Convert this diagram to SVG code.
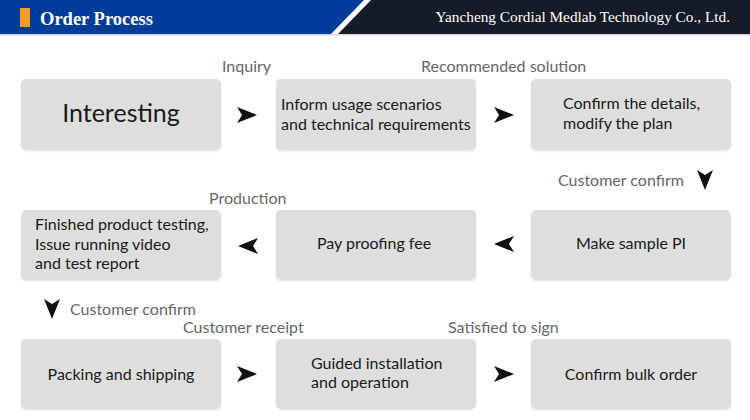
<svg xmlns="http://www.w3.org/2000/svg" width="750" height="420" viewBox="0 0 750 420">
<style>
.box{fill:#dedede;}
.t{font-family:Lato,"Liberation Sans",sans-serif;font-size:16px;fill:#1a1a1a;}
.big{font-size:25px;}
.lbl{font-family:Lato,"Liberation Sans",sans-serif;font-size:16px;fill:#666666;}
.hd{font-family:"Liberation Serif",serif;fill:#ffffff;}
.ar{fill:#111111;}
</style>
<defs>
<filter id="sh" x="-5%" y="-5%" width="110%" height="115%">
<feDropShadow dx="0" dy="1" stdDeviation="1" flood-color="#000" flood-opacity="0.12"/>
</filter>
<path id="ah" d="M-10,-8 L10,0 L-10,8 L-5,0 Z"/>
</defs>
<rect width="750" height="420" fill="#ffffff"/>
<g id="header">
<polygon points="0,0 364,0 331,34 0,34" fill="#003c9a"/>
<polygon points="371,0 750,0 750,34 338,34" fill="#161c27"/>
<rect x="0" y="34" width="750" height="1.5" fill="#d8d8d8"/>
<rect x="20" y="8" width="10" height="19" fill="#f39a2a"/>
<text class="hd" x="40" y="25" style="font-size:18.5px;font-weight:bold">Order Process</text>
<text class="hd" x="730" y="22" style="font-size:15.3px" text-anchor="end">Yancheng Cordial Medlab Technology Co., Ltd.</text>
</g>
<g id="n1"><rect class="box" x="21" y="79" width="200" height="71" rx="5" filter="url(#sh)"/><text class="t big" x="121" y="122" text-anchor="middle">Interesting</text></g>
<g id="n2"><rect class="box" x="276" y="79" width="200" height="71" rx="5" filter="url(#sh)"/><text class="t" x="281" y="110">Inform usage scenarios</text><text class="t" x="281" y="130">and technical requirements</text></g>
<g id="n3"><rect class="box" x="531" y="79" width="200" height="71" rx="5" filter="url(#sh)"/><text class="t" x="563" y="109">Confirm the details,</text><text class="t" x="563" y="129">modify the plan</text></g>
<g id="n4"><rect class="box" x="531" y="210" width="200" height="70" rx="5" filter="url(#sh)"/><text class="t" x="631" y="249" text-anchor="middle">Make sample PI</text></g>
<g id="n5"><rect class="box" x="276" y="210" width="200" height="70" rx="5" filter="url(#sh)"/><text class="t" x="374" y="249" text-anchor="middle">Pay proofing fee</text></g>
<g id="n6"><rect class="box" x="21" y="210" width="200" height="70" rx="5" filter="url(#sh)"/><text class="t" x="35" y="230">Finished product testing,</text><text class="t" x="35" y="250">Issue running video</text><text class="t" x="35" y="269">and test report</text></g>
<g id="n7"><rect class="box" x="21" y="339" width="200" height="70" rx="5" filter="url(#sh)"/><text class="t" x="121" y="380" text-anchor="middle">Packing and shipping</text></g>
<g id="n8"><rect class="box" x="276" y="339" width="200" height="70" rx="5" filter="url(#sh)"/><text class="t" x="311" y="369">Guided installation</text><text class="t" x="311" y="388">and operation</text></g>
<g id="n9"><rect class="box" x="531" y="339" width="200" height="70" rx="5" filter="url(#sh)"/><text class="t" x="631" y="380" text-anchor="middle">Confirm bulk order</text></g>
<g id="connectors">
<use href="#ah" class="ar" transform="translate(247,115)"/>
<use href="#ah" class="ar" transform="translate(504,115)"/>
<use href="#ah" class="ar" transform="translate(705,180) rotate(90)"/>
<use href="#ah" class="ar" transform="translate(504,244) rotate(180)"/>
<use href="#ah" class="ar" transform="translate(248,246) rotate(180)"/>
<use href="#ah" class="ar" transform="translate(52,309) rotate(90)"/>
<use href="#ah" class="ar" transform="translate(247,374)"/>
<use href="#ah" class="ar" transform="translate(504,374)"/>
</g>
<g id="labels">
<text class="lbl" x="222" y="72">Inquiry</text>
<text class="lbl" x="421" y="72">Recommended solution</text>
<text class="lbl" x="558" y="186">Customer confirm</text>
<text class="lbl" x="209" y="204">Production</text>
<text class="lbl" x="70" y="315">Customer confirm</text>
<text class="lbl" x="183" y="333">Customer receipt</text>
<text class="lbl" x="448" y="333">Satisfied to sign</text>
</g>
</svg>
